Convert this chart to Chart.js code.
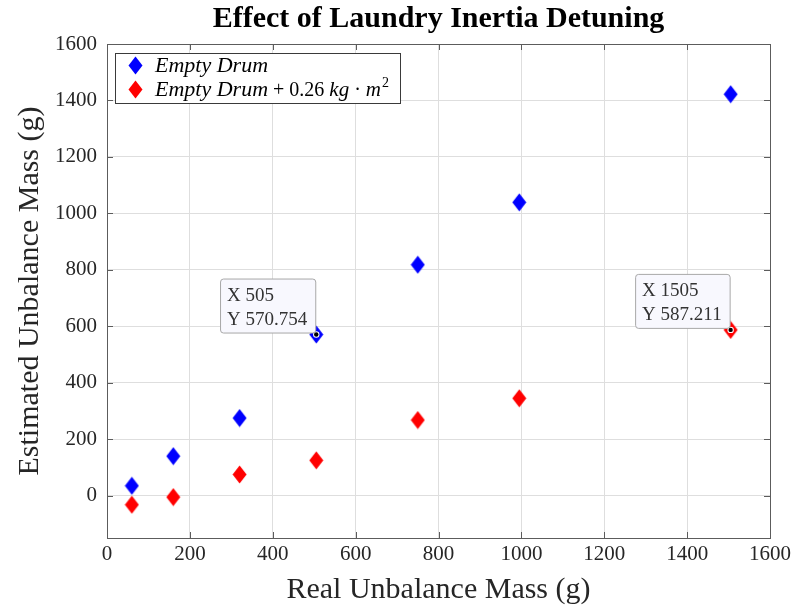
<!DOCTYPE html>
<html>
<head>
<meta charset="utf-8">
<script src="https://cdn.jsdelivr.net/npm/chart.js@4.4.1/dist/chart.umd.min.js"></script>
<style>
html,body{margin:0;padding:0;background:#fff;}
#wrap{width:797px;height:605px;position:relative;}
</style>
</head>
<body>
<div id="wrap"><canvas id="c" width="797" height="605"></canvas></div>
<script>
// ---- data ----
const realMass = [60, 160, 320, 505, 750, 995, 1505];
const emptyDrum = [35, 140, 275, 570.754, 818, 1039, 1422];
const emptyDrumInertia = [-32, -5, 75, 125, 268, 345, 587.211];
const xTicks = [0, 200, 400, 600, 800, 1000, 1200, 1400, 1600];
const yTicks = [0, 200, 400, 600, 800, 1000, 1200, 1400, 1600];
const tipX = [505, 1505];
const tipY = [570.754, 587.211];

const SERIF = '"Liberation Serif", "DejaVu Serif", serif';

function diamond(color) {
  const c = document.createElement('canvas');
  c.width = 15; c.height = 19;
  const g = c.getContext('2d');
  g.fillStyle = color;
  g.beginPath();
  g.moveTo(7.5, 0.5); g.lineTo(14.5, 9.5); g.lineTo(7.5, 18.5); g.lineTo(0.5, 9.5);
  g.closePath(); g.fill();
  return c;
}
const blueD = diamond('#0000ff');
const redD = diamond('#ff0000');

const boxPlugin = {
  id: 'boxPlugin',
  beforeDraw(chart) {
    const ctx = chart.ctx;
    ctx.save();
    ctx.fillStyle = '#fff';
    ctx.fillRect(0, 0, chart.width, chart.height);
    ctx.restore();
  },
  afterDraw(chart) {
    const ctx = chart.ctx, a = chart.chartArea;
    const xs = chart.scales.x, ys = chart.scales.y;
    ctx.save();
    // box
    ctx.strokeStyle = '#5c5c5c';
    ctx.lineWidth = 1;
    ctx.strokeRect(Math.round(a.left) + 0.5, Math.round(a.top) + 0.5, Math.round(a.right - a.left), Math.round(a.bottom - a.top));
    // inward ticks
    ctx.beginPath();
    xTicks.forEach(v => {
      const px = Math.round(xs.getPixelForValue(v)) + 0.5;
      ctx.moveTo(px, a.bottom); ctx.lineTo(px, a.bottom - 6);
      ctx.moveTo(px, a.top); ctx.lineTo(px, a.top + 6);
    });
    yTicks.forEach(v => {
      const py = Math.round(ys.getPixelForValue(v)) + 0.5;
      ctx.moveTo(a.left, py); ctx.lineTo(a.left + 6, py);
      ctx.moveTo(a.right, py); ctx.lineTo(a.right - 6, py);
    });
    ctx.stroke();

    // title
    ctx.fillStyle = '#000';
    ctx.font = 'bold 30px ' + SERIF;
    ctx.textAlign = 'center';
    ctx.textBaseline = 'middle';
    ctx.fillText('Effect of Laundry Inertia Detuning', (a.left + a.right) / 2, 19);

    // legend
    const lx = a.left + 8, ly = a.top + 9, lw = 285, lh = 50;
    ctx.fillStyle = '#fff';
    ctx.fillRect(lx, ly, lw, lh);
    ctx.strokeStyle = '#3a3a3a';
    ctx.strokeRect(lx + 0.5, ly + 0.5, lw, lh);
    ctx.drawImage(blueD, lx + 13, ly + 3);
    ctx.drawImage(redD, lx + 13, ly + 27);
    ctx.fillStyle = '#000';
    ctx.textAlign = 'left';
    ctx.textBaseline = 'alphabetic';
    let tx = lx + 40;
    ctx.font = 'italic 22px ' + SERIF;
    ctx.fillText('Empty Drum', tx, ly + 19);
    const parts = [
      ['italic 22px ', 'Empty Drum'],
      ['20px ', ' + 0.26 '],
      ['italic 21px ', 'kg'],
      ['20px ', ' \u00B7 '],
      ['italic 21px ', 'm']
    ];
    parts.forEach(p => {
      ctx.font = p[0] + SERIF;
      ctx.fillText(p[1], tx, ly + 43);
      tx += ctx.measureText(p[1]).width;
    });
    ctx.font = '14px ' + SERIF;
    ctx.fillText('2', tx + 1, ly + 34);

    // data tips
    tipX.forEach((xv, i) => {
      const px = xs.getPixelForValue(xv), py = ys.getPixelForValue(tipY[i]);
      ctx.fillStyle = '#fff';
      ctx.beginPath(); ctx.arc(px, py, 3.2, 0, Math.PI * 2); ctx.fill();
      ctx.fillStyle = '#000';
      ctx.beginPath(); ctx.arc(px, py, 2.2, 0, Math.PI * 2); ctx.fill();
      const l1 = 'X ' + xv, l2 = 'Y ' + tipY[i];
      ctx.font = '19px ' + SERIF;
      const w = Math.max(ctx.measureText(l1).width, ctx.measureText(l2).width) + 15;
      const h = 54;
      const bx = px - w - 1, by = py - h - 2;
      ctx.fillStyle = '#f8f8fe';
      ctx.strokeStyle = '#a8a8a8';
      ctx.beginPath();
      if (ctx.roundRect) ctx.roundRect(bx + 0.5, by + 0.5, w, h, 3); else ctx.rect(bx + 0.5, by + 0.5, w, h);
      ctx.fill(); ctx.stroke();
      ctx.fillStyle = '#333';
      ctx.fillText(l1, bx + 7, by + 22);
      ctx.fillText(l2, bx + 7, by + 46);
    });
    ctx.restore();
  }
};

new Chart(document.getElementById('c'), {
  type: 'scatter',
  data: {
    datasets: [
      {
        label: 'Empty Drum',
        data: realMass.map((x, i) => ({x: x, y: emptyDrum[i]})),
        pointStyle: blueD,
        backgroundColor: '#0000ff',
        borderColor: '#0000ff'
      },
      {
        label: 'Empty Drum + 0.26 kg\u00B7m\u00B2',
        data: realMass.map((x, i) => ({x: x, y: emptyDrumInertia[i]})),
        pointStyle: redD,
        backgroundColor: '#ff0000',
        borderColor: '#ff0000'
      }
    ]
  },
  options: {
    responsive: false,
    animation: false,
    events: [],
    layout: { padding: { top: 44, right: 27, bottom: 0, left: 10 } },
    plugins: {
      legend: { display: false },
      tooltip: { enabled: false },
      title: { display: false }
    },
    scales: {
      x: {
        type: 'linear',
        min: 0, max: 1600,
        afterBuildTicks(s) { s.ticks = xTicks.map(v => ({value: v})); },
        afterFit(s) { s.height = 67; },
        ticks: { font: { family: SERIF, size: 21 }, color: '#262626', padding: 4, maxRotation: 0, callback: v => String(v) },
        grid: { color: '#dedede', drawTicks: false },
        border: { color: '#5c5c5c' },
        title: { display: true, text: 'Real Unbalance Mass (g)', font: { family: SERIF, size: 30 }, color: '#262626', padding: { top: 0, bottom: -3 } }
      },
      y: {
        type: 'linear',
        min: -150, max: 1600,
        afterBuildTicks(s) { s.ticks = yTicks.map(v => ({value: v})); },
        afterFit(s) { s.width = 97; },
        ticks: { font: { family: SERIF, size: 21 }, color: '#262626', padding: 10, callback: v => String(v) },
        grid: { color: '#dedede', drawTicks: false },
        border: { color: '#5c5c5c' },
        title: { display: true, text: 'Estimated Unbalance Mass (g)', font: { family: SERIF, size: 30 }, color: '#262626', padding: { top: 2, bottom: 0 } }
      }
    }
  },
  plugins: [boxPlugin]
});
</script>
</body>
</html>
